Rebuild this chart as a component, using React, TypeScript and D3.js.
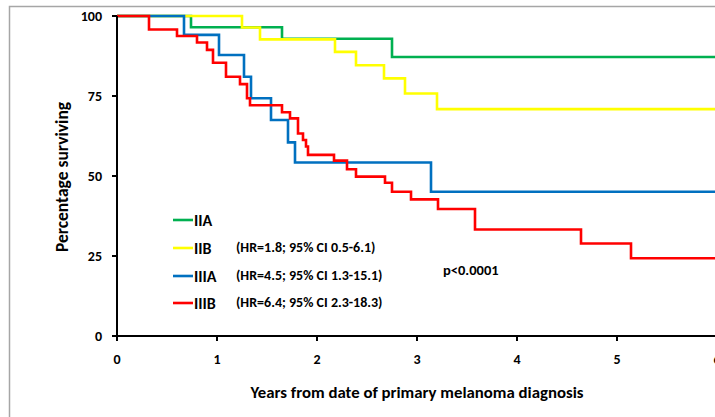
import React from "react";
import * as d3 from "d3";

// Kaplan–Meier survival by stage: event times (years) and survival (%) after each step
const iiaTimes = [0, 0.74, 1.65, 2.75];
const iiaSurv = [100, 96.5, 92.9, 87.2];

const iibTimes = [0, 1.25, 1.43, 2.18, 2.39, 2.67, 2.88, 3.2];
const iibSurv = [100, 96.4, 92.7, 88.8, 84.6, 80.5, 75.8, 70.9];

const iiiaTimes = [0, 0.67, 1.02, 1.27, 1.34, 1.54, 1.71, 1.78, 3.14];
const iiiaSurv = [100, 94.1, 87.8, 81.0, 74.3, 67.5, 60.5, 54.2, 45.1];

const iiibTimes = [
  0, 0.32, 0.6, 0.8, 0.9, 0.96, 1.09, 1.23, 1.3, 1.33, 1.65, 1.73, 1.81, 1.86,
  1.89, 1.91, 2.17, 2.3, 2.39, 2.68, 2.75, 2.94, 3.21, 3.58, 4.64, 5.14,
];
const iiibSurv = [
  100, 95.8, 93.75, 91.7, 89.4, 85.4, 81.0, 78.7, 74.3, 72.1, 69.9, 68.0, 63.3,
  61.25, 59.2, 56.6, 54.8, 52.1, 49.8, 47.9, 45.1, 42.7, 39.7, 33.3, 28.9, 24.3,
];

const stageNames = ["IIA", "IIB", "IIIA", "IIIB"];
const hazardLabels = [
  "",
  "(HR=1.8; 95% CI 0.5-6.1)",
  "(HR=4.5; 95% CI 1.3-15.1)",
  "(HR=6.4; 95% CI 2.3-18.3)",
];
const xTicks = [0, 1, 2, 3, 4, 5, 6];
const yTicks = [0, 25, 50, 75, 100];
const pValueText = "p<0.0001";
const xTitle = "Years from date of primary melanoma diagnosis";
const yTitle = "Percentage surviving";

const colors = ["#00b050", "#ffff00", "#0070c0", "#ff0000"];
const FONT = "Carlito, 'Liberation Sans Narrow', 'DejaVu Sans Condensed', Arial, sans-serif";

const W = 715;
const H = 417;

export default function App() {
  const x = d3.scaleLinear().domain([0, 6]).range([117, 717]);
  const y = d3.scaleLinear().domain([0, 100]).range([336, 16]);

  const series = [
    { t: iiaTimes, s: iiaSurv },
    { t: iibTimes, s: iibSurv },
    { t: iiiaTimes, s: iiiaSurv },
    { t: iiibTimes, s: iiibSurv },
  ];

  const line = d3
    .line<[number, number]>()
    .x((d) => x(d[0]))
    .y((d) => y(d[1]))
    .curve(d3.curveStepAfter);

  const paths = series.map((sr) => {
    const pts: [number, number][] = sr.t.map((t, i) => [t, sr.s[i]]);
    pts.push([6, sr.s[sr.s.length - 1]]);
    return line(pts) || "";
  });

  const legendY = [220, 248, 276, 303];

  return (
    <svg
      width={W}
      height={H}
      style={{ position: "absolute", left: 0, top: 0, background: "#fff" }}
      fontFamily={FONT}
    >
      {/* chart frame */}
      <rect x={9.5} y={6.5} width={W} height={H} fill="none" stroke="#a6a6a6" strokeWidth={1.5} />

      {/* survival curves */}
      {paths.map((d, i) => (
        <path key={i} d={d} fill="none" stroke={colors[i]} strokeWidth={2.6} />
      ))}

      {/* y axis */}
      <line x1={x(0)} x2={x(0)} y1={y(100)} y2={y(0)} stroke="#000" strokeWidth={2} />
      {yTicks.map((v) => (
        <g key={v}>
          <line x1={x(0) - 5} x2={x(0)} y1={y(v)} y2={y(v)} stroke="#000" strokeWidth={2} />
          <text
            x={x(0) - 15}
            y={y(v)}
            textAnchor="end"
            dominantBaseline="central"
            fontSize={14}
            fontWeight="bold"
          >
            {v}
          </text>
        </g>
      ))}

      {/* x axis */}
      <line x1={x(0) - 5} x2={W} y1={y(0)} y2={y(0)} stroke="#000" strokeWidth={2} />
      {xTicks.map((v) => (
        <g key={v}>
          <line x1={x(v)} x2={x(v)} y1={y(0)} y2={y(0) + 5} stroke="#000" strokeWidth={2} />
          <text
            x={x(v)}
            y={359}
            textAnchor="middle"
            dominantBaseline="central"
            fontSize={14}
            fontWeight="bold"
          >
            {v}
          </text>
        </g>
      ))}

      {/* axis titles */}
      <text x={417} y={392} textAnchor="middle" dominantBaseline="central" fontSize={16.8} fontWeight="bold">
        {xTitle}
      </text>
      <text
        transform={`translate(62,177) rotate(-90)`}
        textAnchor="middle"
        dominantBaseline="central"
        fontSize={17.5}
        fontWeight="bold"
      >
        {yTitle}
      </text>

      {/* legend */}
      {stageNames.map((name, i) => (
        <g key={name}>
          <line x1={173} x2={193} y1={legendY[i]} y2={legendY[i]} stroke={colors[i]} strokeWidth={2.6} />
          <text x={194} y={legendY[i]} dominantBaseline="central" fontSize={16} fontWeight="bold">
            {name}
          </text>
          {hazardLabels[i] && (
            <text x={236} y={legendY[i] - 1} dominantBaseline="central" fontSize={14} fontWeight="bold">
              {hazardLabels[i]}
            </text>
          )}
        </g>
      ))}

      <text x={443} y={270} dominantBaseline="central" fontSize={14.5} fontWeight="bold">
        {pValueText}
      </text>
    </svg>
  );
}
